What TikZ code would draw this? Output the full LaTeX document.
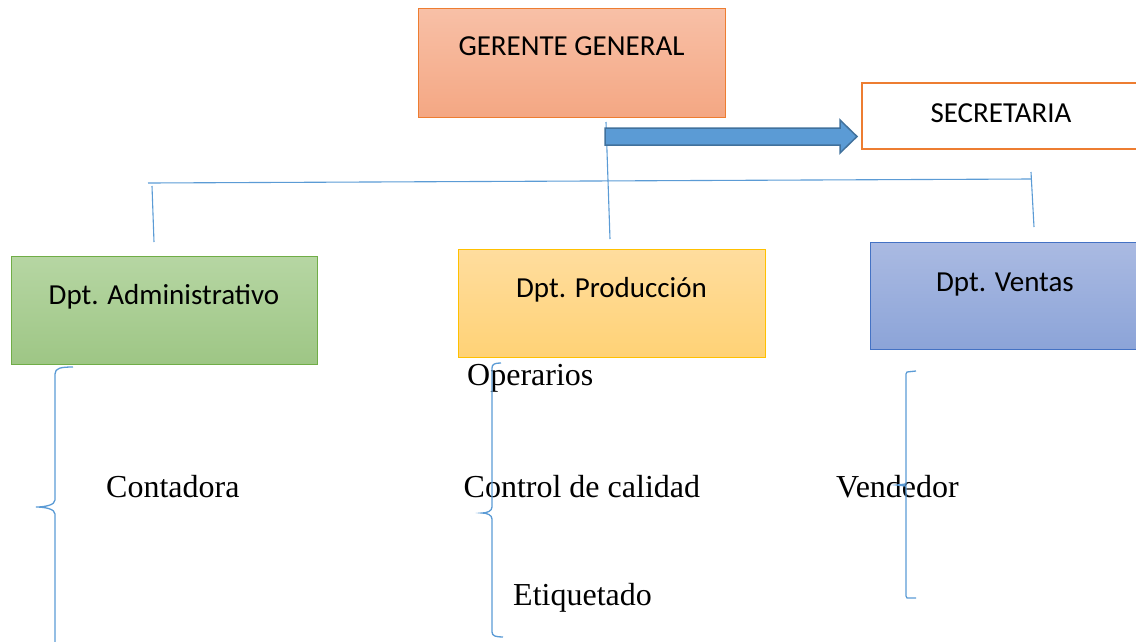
\documentclass[tikz,border=0pt]{standalone}
\usepackage{fontspec}
\setmainfont{Liberation Serif}
\newfontfamily\calibrifont{Carlito}
\usetikzlibrary{calc}
\definecolor{linkblue}{RGB}{91,155,213}
\definecolor{arrowedge}{RGB}{65,113,156}
\definecolor{orgEdge}{RGB}{237,125,49}
\definecolor{orgTop}{RGB}{248,192,167}
\definecolor{orgBot}{RGB}{244,167,131}
\definecolor{grnEdge}{RGB}{112,173,71}
\definecolor{grnTop}{RGB}{182,214,163}
\definecolor{grnBot}{RGB}{158,198,133}
\definecolor{ylwEdge}{RGB}{255,192,0}
\definecolor{ylwTop}{RGB}{255,221,158}
\definecolor{ylwBot}{RGB}{255,210,118}
\definecolor{bluEdge}{RGB}{68,114,196}
\definecolor{bluTop}{RGB}{170,186,226}
\definecolor{bluBot}{RGB}{140,164,216}
\tikzset{
  orgbox/.style={draw=#1, line width=1pt, inner sep=0pt, font=\calibrifont\fontsize{29}{34}\selectfont},
  link/.style={draw=linkblue, line width=1.1pt},
  brace/.style={draw=linkblue, line width=1.3pt},
  bigarrow/.style={draw=arrowedge, fill=linkblue, line width=1.5pt, line join=miter},
  item/.style={anchor=base west, inner sep=0pt, font=\fontsize{32}{38}\selectfont}
}
\begin{document}
\begin{tikzpicture}[x=1pt,y=-1pt]
\useasboundingbox (0,0) rectangle (1136,641);
\clip (0,0) rectangle (1136,641);
% boxes
\node[orgbox=orgEdge, top color=orgTop, bottom color=orgBot, minimum width=307pt, text height=47pt, text depth=62pt] (ger) at (571.5,62.5) {GERENTE GENERAL};
\node[orgbox=orgEdge, line width=2.6pt, fill=white, minimum width=278pt, text height=39pt, text depth=27pt] (sec) at (1001,116) {SECRETARIA};
\node[orgbox=grnEdge, top color=grnTop, bottom color=grnBot, minimum width=306pt, text height=48pt, text depth=60pt] (adm) at (164,310) {Dpt. Administrativo};
\node[orgbox=ylwEdge, top color=ylwTop, bottom color=ylwBot, minimum width=307pt, text height=48pt, text depth=60pt] (pro) at (611.5,303) {Dpt. Producción};
\node[orgbox=bluEdge, top color=bluTop, bottom color=bluBot, minimum width=270pt, text height=49pt, text depth=58pt] (ven) at (1005,295.5) {Dpt. Ventas};
% connector coordinates
\coordinate (gDown) at (606,122);
\coordinate (pUp) at (610,239);
\coordinate (hL) at (148,183);
\coordinate (hR) at (1031,179);
\coordinate (aTop) at (152,186);
\coordinate (aBot) at (154,242);
\coordinate (vTop) at (1031,172);
\coordinate (vBot) at (1034,227);
\draw[link] (gDown) -- (pUp);
\draw[link] (hL) -- (hR);
\draw[link] (aTop) -- (aBot);
\draw[link] (vTop) -- (vBot);
% block arrow to secretaria
\coordinate (aS) at (605,136.5);
\coordinate (aT) at (857,136.5);
\draw[bigarrow] (aS) ++(0,-8.5) -- ++(235,0) -- ++(0,-8) -- (aT) -- ++(-17,16.5) -- ++(0,-8) -- ++(-235,0) -- cycle;
% items
\node[item] (cont) at (106,497) {Contadora};
\node[item] (oper) at (467,385) {Operarios};
\node[item] (ctrl) at (463.5,497) {Control de calidad};
\node[item] (etiq) at (513,605) {Etiquetado};
\node[item] (vend) at (836,497) {Vendedor};
% braces (drawn over the text, as in the original)
\draw[brace] (73,367) .. controls (61,367) and (55,368) .. (55,374) -- (55,500) .. controls (55,505) and (45,507) .. (36,507) .. controls (45,507) and (55,509) .. (55,514) -- (55,645);
\draw[brace] (501,363) .. controls (495,363) and (492,364) .. (492,368) -- (492,507) .. controls (492,511) and (487,513) .. (482,513) .. controls (487,513) and (492,515) .. (492,519) -- (492,632) .. controls (492,636) and (496,637) .. (503,637);
\draw[brace] (916,371) -- (907,372) -- (906,374) -- (906,484) -- (897,485) -- (906,486) -- (906,596) -- (907,598) -- (916,598);
\end{tikzpicture}
\end{document}
